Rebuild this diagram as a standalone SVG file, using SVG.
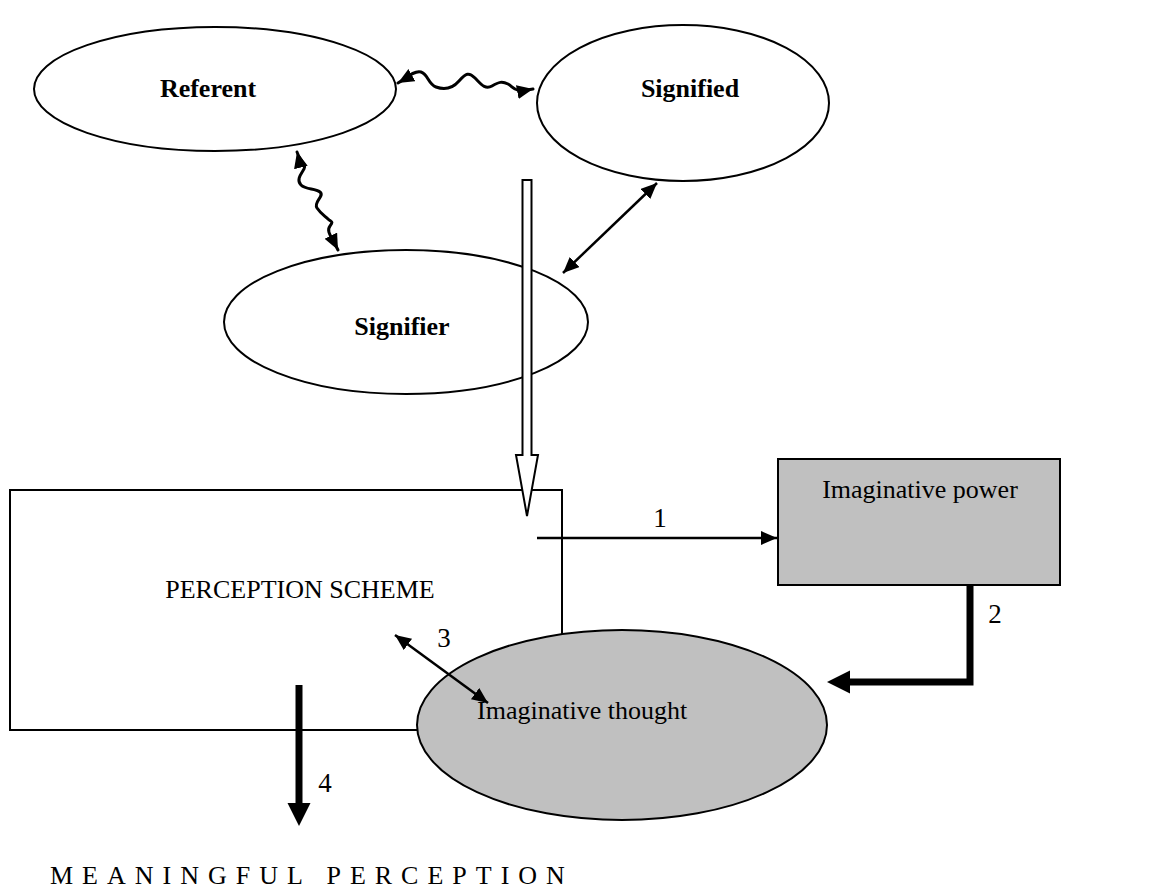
<svg xmlns="http://www.w3.org/2000/svg" width="1161" height="892" viewBox="0 0 1161 892">
  <defs>
    <style>
      .outline { fill: #ffffff; stroke: #000000; stroke-width: 2; }
      .shaded { fill: #c0c0c0; stroke: #000000; stroke-width: 2; }
      .label { font-family: "Liberation Serif", "Times New Roman", serif; font-size: 26px; fill: #000000; }
      .bold { font-weight: bold; }
      .num { font-family: "Liberation Serif", "Times New Roman", serif; font-size: 27px; fill: #000000; }
      .thin { fill: none; stroke: #000000; stroke-width: 2.5; }
      .wavy { fill: none; stroke: #000000; stroke-width: 3; stroke-linejoin: round; stroke-linecap: round; }
      .thick { fill: none; stroke: #000000; stroke-width: 7; }
      .spaced { font-family: "Liberation Serif", "Times New Roman", serif; font-size: 26px; letter-spacing: 9px; fill: #000000; }
    </style>
    <marker id="head" markerUnits="userSpaceOnUse" markerWidth="18" markerHeight="16" refX="16" refY="7" orient="auto-start-reverse">
      <path d="M0,0 L16,7 L0,14 z" fill="#000000"/>
    </marker>
  </defs>

  <!-- upper ellipses: sign triangle -->
  <g id="referent">
    <ellipse class="outline" cx="215" cy="89" rx="181" ry="62"/>
    <text class="label bold" x="208" y="97" text-anchor="middle">Referent</text>
  </g>
  <g id="signified">
    <ellipse class="outline" cx="683" cy="103" rx="146" ry="78"/>
    <text class="label bold" x="690" y="97" text-anchor="middle">Signified</text>
  </g>
  <g id="signifier">
    <ellipse class="outline" cx="406" cy="322" rx="182" ry="72"/>
    <text class="label bold" x="402" y="335" text-anchor="middle">Signifier</text>
  </g>

  <!-- lower blocks -->
  <g id="perception-scheme">
    <rect class="outline" x="10" y="490" width="552" height="240"/>
    <text class="label" x="300" y="598" text-anchor="middle">PERCEPTION SCHEME</text>
  </g>
  <g id="imaginative-power">
    <rect class="shaded" x="778" y="459" width="282" height="126"/>
    <text class="label" x="920" y="498" text-anchor="middle">Imaginative power</text>
  </g>
  <g id="imaginative-thought">
    <ellipse class="shaded" cx="622" cy="725" rx="205" ry="95"/>
    <text class="label" x="477" y="719">Imaginative thought</text>
  </g>

  <g id="connectors">
    <!-- Referent <-> Signified -->
    <path class="wavy" marker-start="url(#head)" marker-end="url(#head)"
          d="M398,83 C405,79 414,70 421,72 S428,84 436,87 S452,89 459,81 S469,72 475,78 S485,90 492,86 S502,81 508,84 S513,93 533,89"/>
    <!-- Referent <-> Signifier -->
    <path class="wavy" marker-start="url(#head)" marker-end="url(#head)"
          d="M297,152 C299,160 307,164 304,169 S296,180 301,185 S315,188 320,192 S313,202 317,208 S325,216 328,219 S334,221 330,226 S331,236 338,250"/>
    <!-- Signified <-> Signifier -->
    <line class="thin" x1="657" y1="183" x2="563" y2="273" marker-start="url(#head)" marker-end="url(#head)"/>
    <!-- hollow arrow from the sign down to the perception scheme -->
    <path class="outline" stroke-width="1.5" d="M522.5,180 L531.5,180 L531.5,455 L538,455 L527,516 L516,455 L522.5,455 z"/>
    <!-- 1: perception scheme to imaginative power -->
    <line class="thin" x1="537" y1="538" x2="777" y2="538" marker-end="url(#head)"/>
    <text class="num" x="660" y="527" text-anchor="middle">1</text>
    <!-- 2: imaginative power to imaginative thought -->
    <path class="thick" d="M970,585 L970,682 L846,682"/>
    <path d="M827,682 L850,670.5 L850,693.5 z" fill="#000000"/>
    <text class="num" x="995" y="623" text-anchor="middle">2</text>
    <!-- 3: perception scheme <-> imaginative thought -->
    <line class="thin" x1="395" y1="635" x2="488" y2="703" marker-start="url(#head)" marker-end="url(#head)"/>
    <text class="num" x="444" y="647" text-anchor="middle">3</text>
    <!-- 4: out to meaningful perception -->
    <line class="thick" x1="299" y1="685" x2="299" y2="806"/>
    <path d="M299,826 L287.5,803 L310.5,803 z" fill="#000000"/>
    <text class="num" x="325" y="792" text-anchor="middle">4</text>
  </g>

  <text class="spaced" x="50" y="884">MEANINGFUL PERCEPTION</text>
</svg>
